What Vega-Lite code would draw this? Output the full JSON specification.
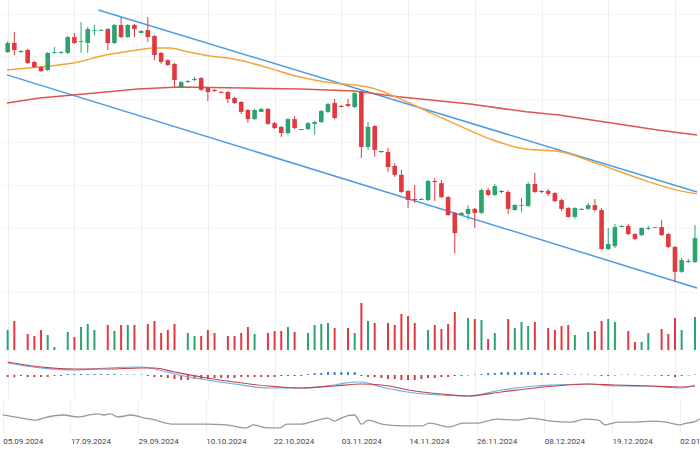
{
  "$schema": "https://vega.github.io/schema/vega-lite/v6.json",
  "padding": 0,
  "spacing": 0,
  "background": "white",
  "resolve": {"scale": {"color": "independent"}},
  "config": {
    "view": {"stroke": null},
    "axis": {"gridColor": "#efefef", "gridWidth": 1, "domain": false, "ticks": false, "title": null}
  },
  "datasets": {
    "candles": [
      {"i":0,"date":"05.09.2024","open":1.1083,"high":1.1124,"low":1.1080,"close":1.1117,"volume":20,"hist":-2},
      {"i":1,"date":"06.09.2024","open":1.1117,"high":1.1158,"low":1.1072,"close":1.1091,"volume":29,"hist":-2},
      {"i":2,"date":"08.09.2024","open":1.1083,"high":1.1091,"low":1.1080,"close":1.1087,"volume":0,"hist":-1},
      {"i":3,"date":"09.09.2024","open":1.1091,"high":1.1094,"low":1.1039,"close":1.1042,"volume":16,"hist":-2},
      {"i":4,"date":"10.09.2024","open":1.1046,"high":1.1050,"low":1.1024,"close":1.1027,"volume":14,"hist":-2},
      {"i":5,"date":"11.09.2024","open":1.1027,"high":1.1031,"low":1.1009,"close":1.1012,"volume":20,"hist":-2},
      {"i":6,"date":"12.09.2024","open":1.1016,"high":1.1083,"low":1.1012,"close":1.1080,"volume":15,"hist":-2},
      {"i":7,"date":"13.09.2024","open":1.1080,"high":1.1102,"low":1.1076,"close":1.1083,"volume":3,"hist":-1},
      {"i":8,"date":"15.09.2024","open":1.1080,"high":1.1087,"low":1.1076,"close":1.1083,"volume":0,"hist":-1},
      {"i":9,"date":"16.09.2024","open":1.1080,"high":1.1143,"low":1.1076,"close":1.1139,"volume":18,"hist":1},
      {"i":10,"date":"17.09.2024","open":1.1139,"high":1.1154,"low":1.1113,"close":1.1117,"volume":13,"hist":1},
      {"i":11,"date":"18.09.2024","open":1.1121,"high":1.1195,"low":1.1080,"close":1.1124,"volume":23,"hist":1},
      {"i":12,"date":"19.09.2024","open":1.1117,"high":1.1177,"low":1.1080,"close":1.1169,"volume":26,"hist":1},
      {"i":13,"date":"20.09.2024","open":1.1162,"high":1.1184,"low":1.1147,"close":1.1165,"volume":20,"hist":1},
      {"i":14,"date":"22.09.2024","open":1.1162,"high":1.1169,"low":1.1162,"close":1.1165,"volume":0,"hist":1},
      {"i":15,"date":"23.09.2024","open":1.1169,"high":1.1173,"low":1.1091,"close":1.1117,"volume":25,"hist":1},
      {"i":16,"date":"24.09.2024","open":1.1117,"high":1.1188,"low":1.1113,"close":1.1184,"volume":19,"hist":1},
      {"i":17,"date":"25.09.2024","open":1.1184,"high":1.1214,"low":1.1136,"close":1.1139,"volume":25,"hist":0.5},
      {"i":18,"date":"26.09.2024","open":1.1139,"high":1.1188,"low":1.1136,"close":1.1184,"volume":25,"hist":0.5},
      {"i":19,"date":"27.09.2024","open":1.1184,"high":1.1188,"low":1.1139,"close":1.1169,"volume":25,"hist":0.5},
      {"i":20,"date":"29.09.2024","open":1.1154,"high":1.1165,"low":1.1154,"close":1.1162,"volume":0,"hist":0.5},
      {"i":21,"date":"30.09.2024","open":1.1165,"high":1.1214,"low":1.1121,"close":1.1139,"volume":26,"hist":-1},
      {"i":22,"date":"01.10.2024","open":1.1143,"high":1.1147,"low":1.1053,"close":1.1072,"volume":29,"hist":-2},
      {"i":23,"date":"02.10.2024","open":1.1080,"high":1.1083,"low":1.1039,"close":1.1046,"volume":17,"hist":-2},
      {"i":24,"date":"03.10.2024","open":1.1053,"high":1.1057,"low":1.1031,"close":1.1035,"volume":20,"hist":-3},
      {"i":25,"date":"04.10.2024","open":1.1039,"high":1.1042,"low":1.0953,"close":1.0979,"volume":26,"hist":-4},
      {"i":26,"date":"06.10.2024","open":1.0953,"high":1.0975,"low":1.0949,"close":1.0971,"volume":0,"hist":-5},
      {"i":27,"date":"07.10.2024","open":1.0971,"high":1.0979,"low":1.0968,"close":1.0975,"volume":17,"hist":-5},
      {"i":28,"date":"08.10.2024","open":1.0979,"high":1.0990,"low":1.0975,"close":1.0983,"volume":14,"hist":-4},
      {"i":29,"date":"09.10.2024","open":1.0986,"high":1.0990,"low":1.0938,"close":1.0942,"volume":14,"hist":-4},
      {"i":30,"date":"10.10.2024","open":1.0949,"high":1.0953,"low":1.0901,"close":1.0934,"volume":20,"hist":-4},
      {"i":31,"date":"11.10.2024","open":1.0942,"high":1.0945,"low":1.0934,"close":1.0938,"volume":17,"hist":-3},
      {"i":32,"date":"13.10.2024","open":1.0934,"high":1.0938,"low":1.0930,"close":1.0930,"volume":0,"hist":-3},
      {"i":33,"date":"14.10.2024","open":1.0934,"high":1.0938,"low":1.0893,"close":1.0908,"volume":14,"hist":-3},
      {"i":34,"date":"15.10.2024","open":1.0912,"high":1.0916,"low":1.0889,"close":1.0893,"volume":14,"hist":-3},
      {"i":35,"date":"16.10.2024","open":1.0897,"high":1.0901,"low":1.0852,"close":1.0860,"volume":17,"hist":-2},
      {"i":36,"date":"17.10.2024","open":1.0867,"high":1.0871,"low":1.0818,"close":1.0833,"volume":23,"hist":-2},
      {"i":37,"date":"18.10.2024","open":1.0833,"high":1.0871,"low":1.0830,"close":1.0867,"volume":16,"hist":-2},
      {"i":38,"date":"20.10.2024","open":1.0860,"high":1.0874,"low":1.0860,"close":1.0871,"volume":0,"hist":-2},
      {"i":39,"date":"21.10.2024","open":1.0871,"high":1.0874,"low":1.0811,"close":1.0815,"volume":17,"hist":-2},
      {"i":40,"date":"22.10.2024","open":1.0818,"high":1.0822,"low":1.0796,"close":1.0800,"volume":19,"hist":-2},
      {"i":41,"date":"23.10.2024","open":1.0804,"high":1.0807,"low":1.0766,"close":1.0781,"volume":19,"hist":-1},
      {"i":42,"date":"24.10.2024","open":1.0781,"high":1.0837,"low":1.0774,"close":1.0833,"volume":23,"hist":-1},
      {"i":43,"date":"25.10.2024","open":1.0833,"high":1.0845,"low":1.0796,"close":1.0800,"volume":18,"hist":-1},
      {"i":44,"date":"27.10.2024","open":1.0792,"high":1.0796,"low":1.0792,"close":1.0796,"volume":0,"hist":-1},
      {"i":45,"date":"28.10.2024","open":1.0796,"high":1.0822,"low":1.0792,"close":1.0818,"volume":17,"hist":1},
      {"i":46,"date":"29.10.2024","open":1.0815,"high":1.0826,"low":1.0774,"close":1.0822,"volume":25,"hist":2},
      {"i":47,"date":"30.10.2024","open":1.0822,"high":1.0867,"low":1.0818,"close":1.0863,"volume":26,"hist":2},
      {"i":48,"date":"31.10.2024","open":1.0860,"high":1.0893,"low":1.0856,"close":1.0889,"volume":27,"hist":3},
      {"i":49,"date":"01.11.2024","open":1.0893,"high":1.0908,"low":1.0833,"close":1.0837,"volume":22,"hist":3},
      {"i":50,"date":"03.11.2024","open":1.0882,"high":1.0886,"low":1.0878,"close":1.0878,"volume":0,"hist":3},
      {"i":51,"date":"04.11.2024","open":1.0889,"high":1.0908,"low":1.0878,"close":1.0882,"volume":22,"hist":3},
      {"i":52,"date":"05.11.2024","open":1.0878,"high":1.0934,"low":1.0874,"close":1.0930,"volume":17,"hist":3},
      {"i":53,"date":"06.11.2024","open":1.0934,"high":1.0938,"low":1.0688,"close":1.0729,"volume":47,"hist":-1},
      {"i":54,"date":"07.11.2024","open":1.0729,"high":1.0822,"low":1.0718,"close":1.0804,"volume":29,"hist":-2},
      {"i":55,"date":"08.11.2024","open":1.0807,"high":1.0811,"low":1.0692,"close":1.0718,"volume":27,"hist":-2},
      {"i":56,"date":"10.11.2024","open":1.0714,"high":1.0714,"low":1.0707,"close":1.0710,"volume":0,"hist":-3},
      {"i":57,"date":"11.11.2024","open":1.0710,"high":1.0725,"low":1.0636,"close":1.0654,"volume":27,"hist":-4},
      {"i":58,"date":"12.11.2024","open":1.0658,"high":1.0669,"low":1.0617,"close":1.0625,"volume":25,"hist":-4},
      {"i":59,"date":"13.11.2024","open":1.0625,"high":1.0643,"low":1.0557,"close":1.0561,"volume":36,"hist":-5},
      {"i":60,"date":"14.11.2024","open":1.0565,"high":1.0568,"low":1.0501,"close":1.0531,"volume":34,"hist":-5},
      {"i":61,"date":"15.11.2024","open":1.0535,"high":1.0587,"low":1.0520,"close":1.0531,"volume":27,"hist":-5},
      {"i":62,"date":"17.11.2024","open":1.0531,"high":1.0539,"low":1.0531,"close":1.0535,"volume":0,"hist":-4},
      {"i":63,"date":"18.11.2024","open":1.0531,"high":1.0606,"low":1.0527,"close":1.0602,"volume":20,"hist":-3},
      {"i":64,"date":"19.11.2024","open":1.0602,"high":1.0613,"low":1.0527,"close":1.0598,"volume":25,"hist":-3},
      {"i":65,"date":"20.11.2024","open":1.0594,"high":1.0606,"low":1.0539,"close":1.0542,"volume":21,"hist":-2},
      {"i":66,"date":"21.11.2024","open":1.0542,"high":1.0546,"low":1.0471,"close":1.0475,"volume":26,"hist":-2},
      {"i":67,"date":"22.11.2024","open":1.0483,"high":1.0486,"low":1.0333,"close":1.0408,"volume":38,"hist":-1},
      {"i":68,"date":"24.11.2024","open":1.0475,"high":1.0486,"low":1.0475,"close":1.0483,"volume":0,"hist":-1},
      {"i":69,"date":"25.11.2024","open":1.0479,"high":1.0512,"low":1.0457,"close":1.0498,"volume":32,"hist":-0.5},
      {"i":70,"date":"26.11.2024","open":1.0498,"high":1.0501,"low":1.0427,"close":1.0483,"volume":31,"hist":0.5},
      {"i":71,"date":"27.11.2024","open":1.0483,"high":1.0572,"low":1.0479,"close":1.0568,"volume":30,"hist":1},
      {"i":72,"date":"28.11.2024","open":1.0568,"high":1.0576,"low":1.0546,"close":1.0550,"volume":11,"hist":2},
      {"i":73,"date":"29.11.2024","open":1.0550,"high":1.0591,"low":1.0546,"close":1.0583,"volume":17,"hist":2},
      {"i":74,"date":"01.12.2024","open":1.0565,"high":1.0568,"low":1.0557,"close":1.0561,"volume":0,"hist":3},
      {"i":75,"date":"02.12.2024","open":1.0561,"high":1.0568,"low":1.0479,"close":1.0498,"volume":31,"hist":3},
      {"i":76,"date":"03.12.2024","open":1.0494,"high":1.0516,"low":1.0490,"close":1.0512,"volume":22,"hist":3},
      {"i":77,"date":"04.12.2024","open":1.0509,"high":1.0539,"low":1.0486,"close":1.0512,"volume":28,"hist":3},
      {"i":78,"date":"05.12.2024","open":1.0509,"high":1.0598,"low":1.0505,"close":1.0591,"volume":24,"hist":3},
      {"i":79,"date":"06.12.2024","open":1.0591,"high":1.0632,"low":1.0557,"close":1.0561,"volume":28,"hist":3},
      {"i":80,"date":"08.12.2024","open":1.0565,"high":1.0568,"low":1.0557,"close":1.0561,"volume":0,"hist":2},
      {"i":81,"date":"09.12.2024","open":1.0565,"high":1.0572,"low":1.0546,"close":1.0554,"volume":22,"hist":2},
      {"i":82,"date":"10.12.2024","open":1.0557,"high":1.0561,"low":1.0524,"close":1.0527,"volume":20,"hist":1},
      {"i":83,"date":"11.12.2024","open":1.0531,"high":1.0535,"low":1.0490,"close":1.0498,"volume":24,"hist":1},
      {"i":84,"date":"12.12.2024","open":1.0501,"high":1.0505,"low":1.0464,"close":1.0468,"volume":25,"hist":0.5},
      {"i":85,"date":"13.12.2024","open":1.0468,"high":1.0505,"low":1.0460,"close":1.0501,"volume":15,"hist":0.5},
      {"i":86,"date":"15.12.2024","open":1.0494,"high":1.0501,"low":1.0494,"close":1.0498,"volume":0,"hist":0.5},
      {"i":87,"date":"16.12.2024","open":1.0498,"high":1.0520,"low":1.0494,"close":1.0512,"volume":18,"hist":0.5},
      {"i":88,"date":"17.12.2024","open":1.0512,"high":1.0535,"low":1.0486,"close":1.0494,"volume":19,"hist":-0.5},
      {"i":89,"date":"18.12.2024","open":1.0494,"high":1.0501,"low":1.0345,"close":1.0348,"volume":29,"hist":-1},
      {"i":90,"date":"19.12.2024","open":1.0348,"high":1.0427,"low":1.0345,"close":1.0367,"volume":31,"hist":-1},
      {"i":91,"date":"20.12.2024","open":1.0359,"high":1.0442,"low":1.0352,"close":1.0430,"volume":28,"hist":-0.5},
      {"i":92,"date":"22.12.2024","open":1.0430,"high":1.0438,"low":1.0430,"close":1.0434,"volume":0,"hist":0.5},
      {"i":93,"date":"23.12.2024","open":1.0434,"high":1.0442,"low":1.0400,"close":1.0404,"volume":19,"hist":0.5},
      {"i":94,"date":"24.12.2024","open":1.0404,"high":1.0408,"low":1.0382,"close":1.0386,"volume":8,"hist":0.5},
      {"i":95,"date":"26.12.2024","open":1.0400,"high":1.0430,"low":1.0397,"close":1.0427,"volume":8,"hist":-0.5},
      {"i":96,"date":"27.12.2024","open":1.0423,"high":1.0434,"low":1.0419,"close":1.0427,"volume":17,"hist":-0.5},
      {"i":97,"date":"29.12.2024","open":1.0427,"high":1.0430,"low":1.0427,"close":1.0430,"volume":0,"hist":-0.5},
      {"i":98,"date":"30.12.2024","open":1.0430,"high":1.0457,"low":1.0397,"close":1.0400,"volume":21,"hist":-1},
      {"i":99,"date":"31.12.2024","open":1.0404,"high":1.0408,"low":1.0352,"close":1.0356,"volume":16,"hist":-1},
      {"i":100,"date":"02.01.2025","open":1.0356,"high":1.0359,"low":1.0225,"close":1.0263,"volume":32,"hist":-2},
      {"i":101,"date":"03.01.2025","open":1.0263,"high":1.0315,"low":1.0259,"close":1.0307,"volume":20,"hist":-1},
      {"i":102,"date":"05.01.2025","open":1.0300,"high":1.0311,"low":1.0296,"close":1.0304,"volume":0,"hist":-0.5},
      {"i":103,"date":"06.01.2025","open":1.0300,"high":1.0438,"low":1.0296,"close":1.0389,"volume":33,"hist":0.5}
    ],
    "lines": [
      {"series":"upper channel","i":13.6,"value":1.1240},
      {"series":"upper channel","i":103.3,"value":1.0561},
      {"series":"lower channel","i":-0.1,"value":1.0998},
      {"series":"lower channel","i":103.3,"value":1.0203},
      {"series":"MA fast","i":-0.1,"value":1.1016},
      {"series":"MA fast","i":4.8,"value":1.1027},
      {"series":"MA fast","i":9.8,"value":1.1042},
      {"series":"MA fast","i":14.7,"value":1.1072},
      {"series":"MA fast","i":19.5,"value":1.1091},
      {"series":"MA fast","i":22,"value":1.1098},
      {"series":"MA fast","i":24.3,"value":1.1098},
      {"series":"MA fast","i":26.5,"value":1.1087},
      {"series":"MA fast","i":29.4,"value":1.1072},
      {"series":"MA fast","i":33.9,"value":1.1057},
      {"series":"MA fast","i":38.7,"value":1.1027},
      {"series":"MA fast","i":43.8,"value":1.0990},
      {"series":"MA fast","i":48.6,"value":1.0968},
      {"series":"MA fast","i":52,"value":1.0960},
      {"series":"MA fast","i":54.6,"value":1.0949},
      {"series":"MA fast","i":58.5,"value":1.0912},
      {"series":"MA fast","i":63.4,"value":1.0856},
      {"series":"MA fast","i":67.8,"value":1.0807},
      {"series":"MA fast","i":72.7,"value":1.0755},
      {"series":"MA fast","i":77.7,"value":1.0721},
      {"series":"MA fast","i":82.6,"value":1.0712},
      {"series":"MA fast","i":88.5,"value":1.0666},
      {"series":"MA fast","i":94.4,"value":1.0613},
      {"series":"MA fast","i":100.3,"value":1.0568},
      {"series":"MA fast","i":103.3,"value":1.0554},
      {"series":"MA slow","i":-0.1,"value":1.0893},
      {"series":"MA slow","i":4.8,"value":1.0912},
      {"series":"MA slow","i":9.8,"value":1.0923},
      {"series":"MA slow","i":14.7,"value":1.0934},
      {"series":"MA slow","i":19.5,"value":1.0945},
      {"series":"MA slow","i":25.7,"value":1.0953},
      {"series":"MA slow","i":35.4,"value":1.0949},
      {"series":"MA slow","i":43.8,"value":1.0945},
      {"series":"MA slow","i":52,"value":1.0938},
      {"series":"MA slow","i":58.5,"value":1.0916},
      {"series":"MA slow","i":63.4,"value":1.0904},
      {"series":"MA slow","i":69.3,"value":1.0889},
      {"series":"MA slow","i":77.7,"value":1.0860},
      {"series":"MA slow","i":82.6,"value":1.0848},
      {"series":"MA slow","i":87.5,"value":1.0830},
      {"series":"MA slow","i":92.5,"value":1.0811},
      {"series":"MA slow","i":97.4,"value":1.0792},
      {"series":"MA slow","i":103.3,"value":1.0774}
    ],
    "macd": [
      {"series":"MACD","i":0,"value":12},{"series":"MACD","i":5,"value":7},{"series":"MACD","i":10,"value":5},
      {"series":"MACD","i":15,"value":7},{"series":"MACD","i":20,"value":8},{"series":"MACD","i":22,"value":6},
      {"series":"MACD","i":25,"value":1},{"series":"MACD","i":29,"value":-4},{"series":"MACD","i":34,"value":-9},
      {"series":"MACD","i":39,"value":-13},{"series":"MACD","i":44,"value":-13},{"series":"MACD","i":49,"value":-10},
      {"series":"MACD","i":52,"value":-7},{"series":"MACD","i":53,"value":-7},{"series":"MACD","i":56,"value":-12},
      {"series":"MACD","i":61,"value":-18},{"series":"MACD","i":65,"value":-20},{"series":"MACD","i":69,"value":-21},
      {"series":"MACD","i":74,"value":-15},{"series":"MACD","i":79,"value":-11},{"series":"MACD","i":82,"value":-10},
      {"series":"MACD","i":87,"value":-9},{"series":"MACD","i":91,"value":-11},{"series":"MACD","i":96,"value":-11},
      {"series":"MACD","i":101,"value":-13},{"series":"MACD","i":103,"value":-10},
      {"series":"Signal","i":0,"value":13},{"series":"Signal","i":5,"value":8},{"series":"Signal","i":10,"value":6},
      {"series":"Signal","i":15,"value":6},{"series":"Signal","i":20,"value":7},{"series":"Signal","i":22,"value":7},
      {"series":"Signal","i":25,"value":3},{"series":"Signal","i":29,"value":-2},{"series":"Signal","i":34,"value":-7},
      {"series":"Signal","i":39,"value":-11},{"series":"Signal","i":44,"value":-13},{"series":"Signal","i":49,"value":-11},
      {"series":"Signal","i":53,"value":-9},{"series":"Signal","i":56,"value":-10},{"series":"Signal","i":61,"value":-16},
      {"series":"Signal","i":65,"value":-19},{"series":"Signal","i":69,"value":-21},{"series":"Signal","i":74,"value":-17},
      {"series":"Signal","i":79,"value":-13},{"series":"Signal","i":82,"value":-11},{"series":"Signal","i":87,"value":-9},
      {"series":"Signal","i":91,"value":-10},{"series":"Signal","i":96,"value":-11},{"series":"Signal","i":101,"value":-12},
      {"series":"Signal","i":103,"value":-11}
    ],
    "rsi": [
      {"i":0,"value":53},{"i":2,"value":47},{"i":5,"value":38},{"i":6,"value":44},{"i":9,"value":53},
      {"i":11,"value":47},{"i":14,"value":56},{"i":15,"value":53},{"i":16,"value":56},{"i":17,"value":47},
      {"i":19,"value":53},{"i":21,"value":44},{"i":22,"value":41},{"i":25,"value":26},{"i":28,"value":26},
      {"i":30,"value":26},{"i":33,"value":24},{"i":36,"value":15},{"i":37,"value":24},{"i":39,"value":15},
      {"i":41,"value":15},{"i":42,"value":26},{"i":44,"value":26},{"i":46,"value":35},{"i":48,"value":44},
      {"i":49,"value":35},{"i":50,"value":44},{"i":51,"value":51},{"i":52,"value":53},{"i":53,"value":26},
      {"i":54,"value":38},{"i":56,"value":26},{"i":59,"value":21},{"i":62,"value":21},{"i":63,"value":29},
      {"i":66,"value":18},{"i":68,"value":29},{"i":70,"value":29},{"i":73,"value":41},{"i":76,"value":38},
      {"i":78,"value":44},{"i":81,"value":35},{"i":84,"value":32},{"i":86,"value":41},{"i":88,"value":38},
      {"i":89,"value":24},{"i":91,"value":32},{"i":93,"value":32},{"i":96,"value":35},{"i":98,"value":32},
      {"i":100,"value":24},{"i":101,"value":29},{"i":102,"value":32},{"i":103,"value":41}
    ]
  },
  "vconcat": [
    {
      "width": 700,
      "height": 296,
      "layer": [
        {
          "data": {"name": "lines"},
          "transform": [{"filter": "indexof(datum.series, 'channel') >= 0"}],
          "mark": {"type": "line", "strokeWidth": 1.5, "color": "#4d9be3"},
          "encoding": {
            "x": {"field": "i", "type": "quantitative", "scale": {"domain": [-0.1, 103.3], "nice": false, "zero": false},
                  "axis": {"values": [0,10,20,30,40,50,60,70,80,90,100], "labels": false, "grid": true}},
            "y": {"field": "value", "type": "quantitative", "scale": {"domain": [1.01729, 1.12774], "nice": false, "zero": false},
                  "axis": {"values": [1.1227,1.1147,1.1067,1.0987,1.0907,1.0827,1.0747,1.0667,1.0587,1.0507,1.0427,1.0267,1.0187], "labels": false, "grid": true, "gridColor": "#f4f4f4"}},
            "detail": {"field": "series"}
          }
        },
        {
          "data": {"name": "lines"},
          "transform": [{"filter": "datum.series == 'MA slow'"}],
          "mark": {"type": "line", "strokeWidth": 1.5, "color": "#de5454"},
          "encoding": {
            "x": {"field": "i", "type": "quantitative"},
            "y": {"field": "value", "type": "quantitative"}
          }
        },
        {
          "data": {"name": "lines"},
          "transform": [{"filter": "datum.series == 'MA fast'"}],
          "mark": {"type": "line", "strokeWidth": 1.5, "color": "#f2a43a", "interpolate": "monotone"},
          "encoding": {
            "x": {"field": "i", "type": "quantitative"},
            "y": {"field": "value", "type": "quantitative"}
          }
        },
        {
          "mark": {"type": "rule", "color": "#b9b9b9", "strokeWidth": 1},
          "encoding": {"y": {"datum": 1.0348}}
        },
        {
          "data": {"name": "candles"},
          "mark": {"type": "rule", "strokeWidth": 1},
          "encoding": {
            "x": {"field": "i", "type": "quantitative"},
            "y": {"field": "low", "type": "quantitative"},
            "y2": {"field": "high"},
            "color": {"condition": {"test": "datum.close >= datum.open", "value": "#2ba36f"}, "value": "#e2393f"}
          }
        },
        {
          "data": {"name": "candles"},
          "mark": {"type": "bar", "width": 4.6},
          "encoding": {
            "x": {"field": "i", "type": "quantitative"},
            "y": {"field": "open", "type": "quantitative"},
            "y2": {"field": "close"},
            "color": {"condition": {"test": "datum.close >= datum.open", "value": "#2ba36f"}, "value": "#e2393f"}
          }
        }
      ]
    },
    {
      "width": 700,
      "height": 54,
      "data": {"name": "candles"},
      "transform": [{"filter": "datum.volume > 0"}],
      "mark": {"type": "bar", "width": 2},
      "encoding": {
        "x": {"field": "i", "type": "quantitative", "scale": {"domain": [-0.1, 103.3], "nice": false, "zero": false},
              "axis": {"values": [0,10,20,30,40,50,60,70,80,90,100], "labels": false, "grid": true}},
        "y": {"field": "volume", "type": "quantitative", "scale": {"domain": [0, 54], "nice": false}, "axis": null},
        "color": {"condition": {"test": "datum.close >= datum.open", "value": "#2ba36f"}, "value": "#e2393f"}
      }
    },
    {
      "width": 700,
      "height": 48,
      "layer": [
        {
          "data": {"name": "candles"},
          "mark": {"type": "bar", "width": 2},
          "encoding": {
            "x": {"field": "i", "type": "quantitative", "scale": {"domain": [-0.1, 103.3], "nice": false, "zero": false},
                  "axis": {"values": [0,10,20,30,40,50,60,70,80,90,100], "labels": false, "grid": true}},
            "y": {"field": "hist", "type": "quantitative", "scale": {"domain": [-23, 25], "nice": false, "zero": false}, "axis": null},
            "y2": {"datum": 0},
            "color": {"condition": {"test": "datum.hist > 0", "value": "#3f7fbf"}, "value": "#cc3d3d"}
          }
        },
        {
          "data": {"name": "macd"},
          "transform": [{"filter": "datum.series == 'MACD'"}],
          "mark": {"type": "line", "strokeWidth": 1.2, "interpolate": "monotone", "color": "#6aaee0"},
          "encoding": {
            "x": {"field": "i", "type": "quantitative"},
            "y": {"field": "value", "type": "quantitative"}
          }
        },
        {
          "data": {"name": "macd"},
          "transform": [{"filter": "datum.series == 'Signal'"}],
          "mark": {"type": "line", "strokeWidth": 1.2, "interpolate": "monotone", "color": "#c8414a"},
          "encoding": {
            "x": {"field": "i", "type": "quantitative"},
            "y": {"field": "value", "type": "quantitative"}
          }
        }
      ]
    },
    {
      "width": 700,
      "height": 34,
      "data": {"name": "rsi"},
      "mark": {"type": "line", "strokeWidth": 1.3, "color": "#999999", "interpolate": "monotone"},
      "encoding": {
        "x": {"field": "i", "type": "quantitative", "scale": {"domain": [-0.1, 103.3], "nice": false, "zero": false},
              "axis": {"values": [0,10,20,30,40,50,60,70,80,90,100], "grid": true, "labelAlign": "left", "labelFont": "Roboto",
                       "labelFontSize": 8, "labelColor": "#444444", "labelPadding": 4, "labelOverlap": false, "labelFlush": false, "labelDx": -1,
                       "labelExpr": "['05.09.2024','17.09.2024','29.09.2024','10.10.2024','22.10.2024','03.11.2024','14.11.2024','26.11.2024','08.12.2024','19.12.2024','02.01.2025'][round(datum.value/10)]"}},
        "y": {"field": "value", "type": "quantitative", "scale": {"domain": [0, 100], "nice": false}, "axis": null}
      }
    }
  ]
}
